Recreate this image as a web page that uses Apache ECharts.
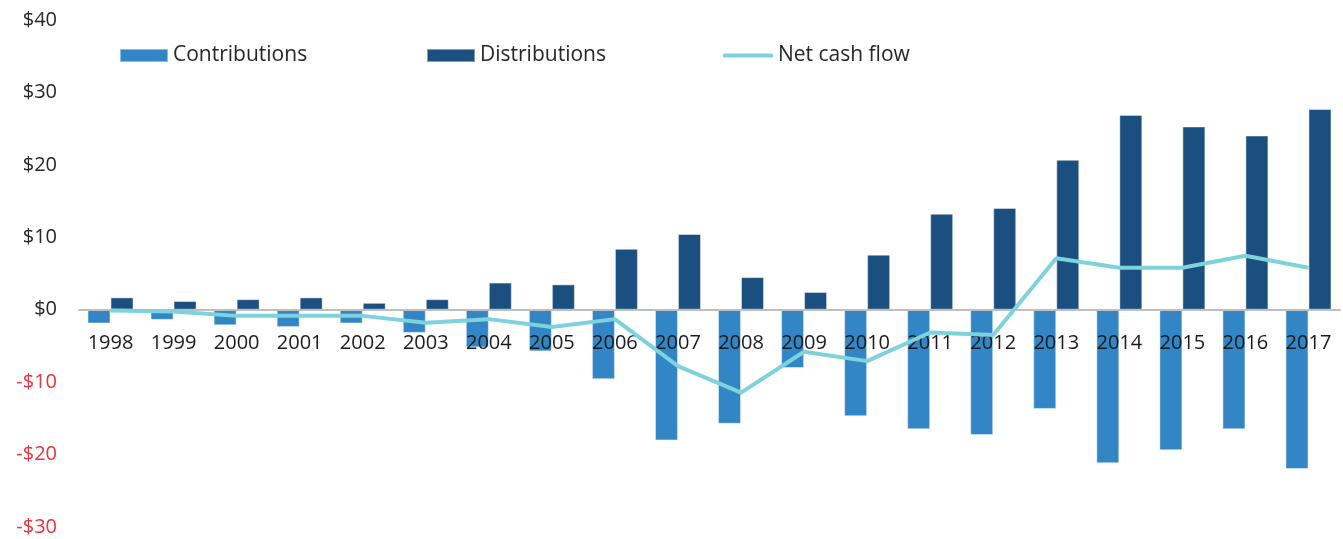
<!DOCTYPE html>
<html>
<head>
<meta charset="utf-8">
<script src="https://cdn.jsdelivr.net/npm/echarts@6/dist/echarts.min.js"></script>
<style>
html,body{margin:0;padding:0;background:#fff;}
#chart{width:1343px;height:539px;}
</style>
</head>
<body>
<div id="chart"></div>
<script>
const years = ['1998','1999','2000','2001','2002','2003','2004','2005','2006','2007','2008','2009','2010','2011','2012','2013','2014','2015','2016','2017'];
const contributions = [-1.9,-1.4,-2.15,-2.4,-1.9,-3.2,-5.2,-5.75,-9.6,-18.05,-15.75,-8.05,-14.7,-16.5,-17.3,-13.7,-21.2,-19.4,-16.5,-22.0];
const distributions = [1.7,1.2,1.45,1.7,0.95,1.45,3.75,3.5,8.4,10.45,4.5,2.45,7.6,13.25,14.05,20.7,26.9,25.3,24.05,27.7];
const netCashFlow = [-0.1,-0.25,-0.85,-0.85,-0.85,-1.8,-1.3,-2.4,-1.3,-7.8,-11.45,-5.8,-7.1,-3.15,-3.5,7.1,5.8,5.8,7.45,5.8];

const FONT = '"Open Sans", sans-serif';
const C_CONTRIB = '#3286C6';
const C_DISTR = '#1B4F80';
const C_NET = '#7ED2DC';

const chart = echarts.init(document.getElementById('chart'));
const legendText = {fontFamily: FONT, fontSize: 21, color: '#262626', lineHeight: 20, padding: [0, 0, 0, 0]};
chart.setOption({
  animation: false,
  backgroundColor: '#fff',
  grid: {left: 79, right: 3, top: 20, bottom: 12, containLabel: false, outerBoundsMode: 'none'},
  legend: [
    {data: ['Contributions'], left: 119, top: 45, padding: 0, itemWidth: 48, itemHeight: 13, itemGap: 0, textStyle: legendText, icon: 'rect'},
    {data: ['Distributions'], left: 426, top: 45, padding: 0, itemWidth: 48, itemHeight: 13, itemGap: 0, textStyle: legendText, icon: 'rect'},
    {data: ['Net cash flow'], left: 723, top: 45, padding: 0, itemWidth: 50, itemHeight: 4, itemGap: 0, textStyle: legendText, icon: 'roundRect'}
  ],
  xAxis: {
    type: 'category',
    data: years,
    z: 3,
    axisLine: {onZero: true, lineStyle: {color: '#BFBFBF', width: 2}},
    axisTick: {show: false},
    axisLabel: {fontFamily: FONT, fontSize: 20, color: '#1a1a1a', margin: -194, lineHeight: 20, interval: 0}
  },
  yAxis: {
    type: 'value',
    min: -30, max: 40, interval: 10,
    splitLine: {show: false},
    axisLine: {show: false},
    axisTick: {show: false},
    axisLabel: {
      fontFamily: FONT, fontSize: 20, margin: 22,
      formatter: v => v < 0 ? '-$' + Math.abs(v) : '$' + v,
      color: v => (v < 0 ? '#E8343C' : '#262626')
    }
  },
  series: [
    {name: 'Contributions', type: 'bar', data: contributions, barWidth: 23, barGap: '0%', z: 2,
     itemStyle: {color: C_CONTRIB, borderColor: 'rgba(255,255,255,0.45)', borderWidth: 1}},
    {name: 'Distributions', type: 'bar', data: distributions, barWidth: 23, barGap: '0%', z: 2,
     itemStyle: {color: C_DISTR, borderColor: 'rgba(255,255,255,0.45)', borderWidth: 1}},
    {name: 'Net cash flow', type: 'line', data: netCashFlow, z: 5, symbol: 'none', showSymbol: false,
     lineStyle: {color: C_NET, width: 4}, itemStyle: {color: C_NET}}
  ]
});
</script>
</body>
</html>
